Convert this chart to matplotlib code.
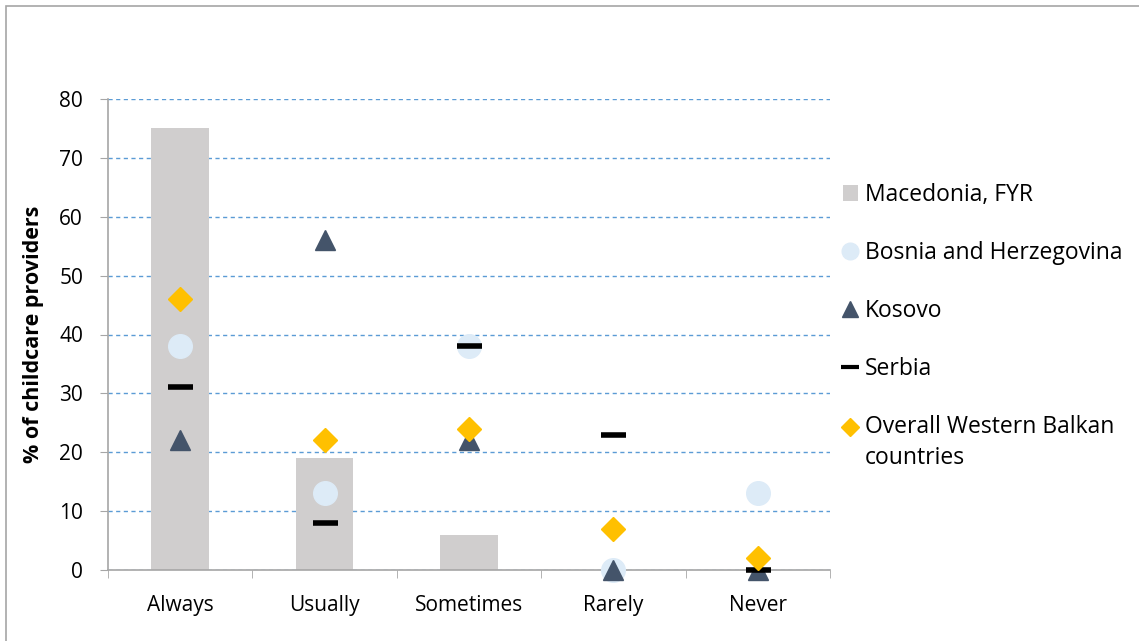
import matplotlib
matplotlib.use("Agg")
import matplotlib.pyplot as plt
import numpy as np
from matplotlib.lines import Line2D
from matplotlib.patches import Patch, Rectangle
from matplotlib.legend_handler import HandlerLine2D

categories = ["Always", "Usually", "Sometimes", "Rarely", "Never"]
macedonia = [75, 19, 6, 0, 0]
bosnia = [38, 13, 38, 0, 13]
kosovo = [22, 56, 22, 0, 0]
serbia = [31, 8, 38, 23, 0]
overall = [46, 22, 24, 7, 2]
yticks = [0, 10, 20, 30, 40, 50, 60, 70, 80]

plt.rcParams['font.family'] = ['Open Sans', 'DejaVu Sans']

W, H = 1139, 641
fig = plt.figure(figsize=(W / 100, H / 100), dpi=100)
ax = fig.add_axes([108 / W, 1 - 570 / H, (830 - 108) / W, (570 - 99) / H])

x = np.arange(len(categories))
ax.bar(x, macedonia, width=0.4, color="#D0CECE", zorder=2)
ax.plot(x, bosnia, ls="none", marker="o", ms=17, color="#DDEBF7", mec="#DDEBF7", zorder=3, clip_on=False)
ax.plot(x, kosovo, ls="none", marker="^", ms=14, color="#44546A", mec="#44546A", zorder=4, clip_on=False)
ax.plot(x, serbia, ls="none", marker="_", ms=18, mew=4, color="black", zorder=5, clip_on=False)
ax.plot(x, overall, ls="none", marker="D", ms=12, color="#FFC000", mec="#FFC000", zorder=6, clip_on=False)

ax.set_xlim(-0.5, len(categories) - 0.5)
ax.set_ylim(0, 80)
ax.set_yticks(yticks)
ax.set_yticklabels([str(v) for v in yticks], fontsize=15)
ax.set_xticks(x)
ax.set_xticklabels(categories, fontsize=15)
ax.set_xticks(np.arange(-0.5, len(categories)), minor=True)
ax.tick_params(axis="x", which="major", length=0, pad=18)
ax.tick_params(axis="x", which="minor", length=6, color="#A6A6A6", direction="out")
ax.tick_params(axis="y", length=6, color="#A6A6A6", direction="out", pad=12)

ax.grid(axis="y", color="#5B9BD5", ls=(0, (3, 2.5)), lw=1, zorder=0)
ax.set_axisbelow(True)
for s in ["top", "right"]:
    ax.spines[s].set_visible(False)
for s in ["left", "bottom"]:
    ax.spines[s].set_color("#A6A6A6")
    ax.spines[s].set_linewidth(1.2)
ax.spines["bottom"].set_zorder(2.5)

ax.set_ylabel("% of childcare providers", fontsize=15.5, fontweight="bold")
ax.yaxis.set_label_coords((44 - 108) / 722, 0.5)


class ShiftedHandler(HandlerLine2D):
    def __init__(self, dy, **kw):
        super().__init__(**kw)
        self.dy = dy

    def create_artists(self, legend, orig_handle, xdescent, ydescent, width, height, fontsize, trans):
        arts = super().create_artists(legend, orig_handle, xdescent, ydescent, width, height, fontsize, trans)
        for a in arts:
            a.set_ydata(np.asarray(a.get_ydata()) + self.dy)
        return arts


handles = [
    Patch(facecolor="#D0CECE", edgecolor="none"),
    Line2D([], [], ls="none", marker="o", ms=12, color="#DDEBF7"),
    Line2D([], [], ls="none", marker="^", ms=12, color="#44546A"),
    Line2D([], [], ls="none", marker="_", ms=13, mew=3, color="black"),
    Line2D([], [], ls="none", marker="D", ms=9, color="#FFC000"),
]
labels = ["Macedonia, FYR", "Bosnia and Herzegovina", "Kosovo", "Serbia",
          "Overall Western Balkan\ncountries"]
leg = fig.legend(handles, labels, loc="upper left", bbox_to_anchor=(843 / W, 1 - 183 / H),
                 frameon=False, fontsize=16.5, labelspacing=1.48, handlelength=0.65,
                 handletextpad=0.3, handleheight=0.65, borderaxespad=0, borderpad=0,
                 handler_map={handles[4]: ShiftedHandler(11.5)})
for t in leg.get_texts():
    t.set_linespacing(1.4)

fig.patches.append(Rectangle((6 / W, -0.1), 1.2, 1 - 6 / H + 0.1, transform=fig.transFigure,
                             fill=False, edgecolor="#A6A6A6", lw=1.2))

fig.savefig("out.png", dpi=100)
